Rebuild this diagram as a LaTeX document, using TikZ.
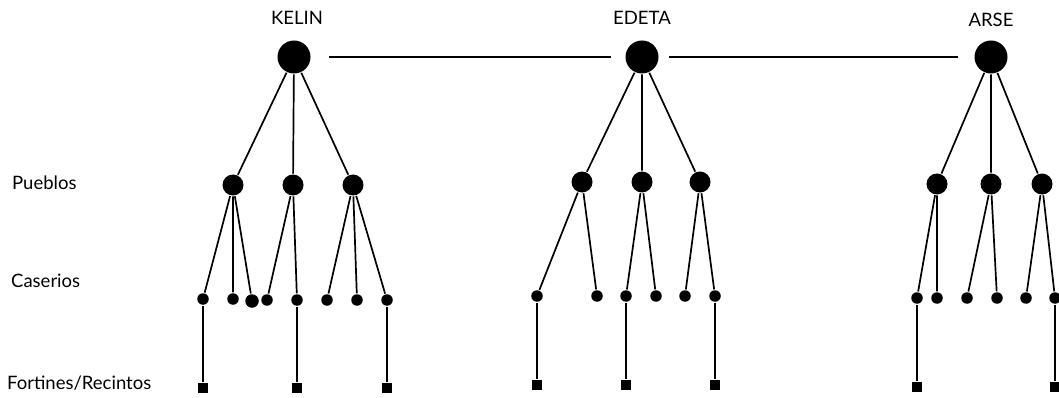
\documentclass[tikz,border=0pt]{standalone}
\usepackage{fontspec}
\setmainfont{Lato}
\usepackage{tikz}
\usetikzlibrary{positioning}

\begin{document}
\begin{tikzpicture}[x=1pt,y=-1pt,line width=1.7pt,
	capital/.style={circle,fill=black,inner sep=0pt,minimum size=33pt},
	pueblo/.style={circle,fill=black,inner sep=0pt,minimum size=21pt},
	caserio/.style={circle,fill=black,inner sep=0pt,minimum size=11.5pt},
	fortin/.style={rectangle,fill=black,inner sep=0pt,minimum size=10.5pt},
	rotulo/.style={font=\fontsize{18.5}{22}\selectfont}]
	\useasboundingbox (0,0) rectangle (1059,398);
	% niveles
	\node[rotulo,anchor=west] (lpueblos) at (8,183) {Pueblos};
	\node[rotulo,anchor=west] (lcaserios) at (7,281) {Caserios};
	\node[rotulo,anchor=west] (lfortines) at (3,383) {Fortines/Recintos};
	% capitales
	\node[capital] (kelin) at (294,57) {};
	\node[capital] (edeta) at (642,57) {};
	\node[capital] (arse) at (991,57) {};
	\node[rotulo] (tkelin) at (297,18) {KELIN};
	\node[rotulo] (tedeta) at (642,18) {EDETA};
	\node[rotulo] (tarse) at (991,20) {ARSE};
	\draw[shorten <=18pt,shorten >=14pt] (kelin)--(edeta);
	\draw[shorten <=10pt,shorten >=16pt] (edeta)--(arse);

	% KELIN
	\node[pueblo] (k1) at (233,185) {};
	\node[pueblo] (k2) at (293,185) {};
	\node[pueblo] (k3) at (353,185) {};
	\draw (kelin)--(k1) (kelin)--(k2) (kelin)--(k3);
	\node[caserio] (k11) at (203,299) {};
	\node[caserio] (k12) at (233,299) {};
	\node[caserio,minimum size=13.5pt] (k13) at (252,301) {};
	\node[caserio] (k21) at (267,300) {};
	\node[caserio] (k22) at (297,300) {};
	\node[caserio] (k31) at (327,300) {};
	\node[caserio] (k32) at (357,300) {};
	\node[caserio] (k33) at (387,300) {};
	\draw (k1)--(k11) (k1)--(k12) (k1)--(k13);
	\draw (k2)--(k21) (k2)--(k22);
	\draw (k3)--(k31) (k3)--(k32) (k3)--(k33);
	\node[fortin] (kf1) at (203,388) {};
	\node[fortin] (kf2) at (297,388) {};
	\node[fortin] (kf3) at (387,388) {};
	\draw (k11)--(kf1) (k22)--(kf2) (k33)--(kf3);

	% EDETA
	\node[pueblo] (e1) at (582,182) {};
	\node[pueblo] (e2) at (642,182) {};
	\node[pueblo] (e3) at (700,182) {};
	\draw (edeta)--(e1) (edeta)--(e2) (edeta)--(e3);
	\node[caserio] (e11) at (537,296) {};
	\node[caserio] (e12) at (597,296) {};
	\node[caserio] (e21) at (626,296) {};
	\node[caserio] (e22) at (656,296) {};
	\node[caserio] (e31) at (685,296) {};
	\node[caserio] (e32) at (715,296) {};
	\draw (e1)--(e11) (e1)--(e12);
	\draw (e2)--(e21) (e2)--(e22);
	\draw (e3)--(e31) (e3)--(e32);
	\node[fortin] (ef1) at (537,385) {};
	\node[fortin] (ef2) at (626,385) {};
	\node[fortin] (ef3) at (715,385) {};
	\draw (e11)--(ef1) (e21)--(ef2) (e32)--(ef3);

	% ARSE
	\node[pueblo] (a1) at (937,184) {};
	\node[pueblo] (a2) at (991,184) {};
	\node[pueblo] (a3) at (1042,184) {};
	\draw (arse)--(a1) (arse)--(a2) (arse)--(a3);
	\node[caserio] (a11) at (917,298) {};
	\node[caserio] (a12) at (937,298) {};
	\node[caserio] (a21) at (967,298) {};
	\node[caserio] (a22) at (997,298) {};
	\node[caserio] (a31) at (1026,298) {};
	\node[caserio] (a32) at (1055,298) {};
	\draw (a1)--(a11) (a1)--(a12);
	\draw (a2)--(a21) (a2)--(a22);
	\draw (a3)--(a31) (a3)--(a32);
	\node[fortin] (af1) at (917,387) {};
	\node[fortin] (af2) at (1055,387) {};
	\draw (a11)--(af1) (a32)--(af2);
\end{tikzpicture}
\end{document}
